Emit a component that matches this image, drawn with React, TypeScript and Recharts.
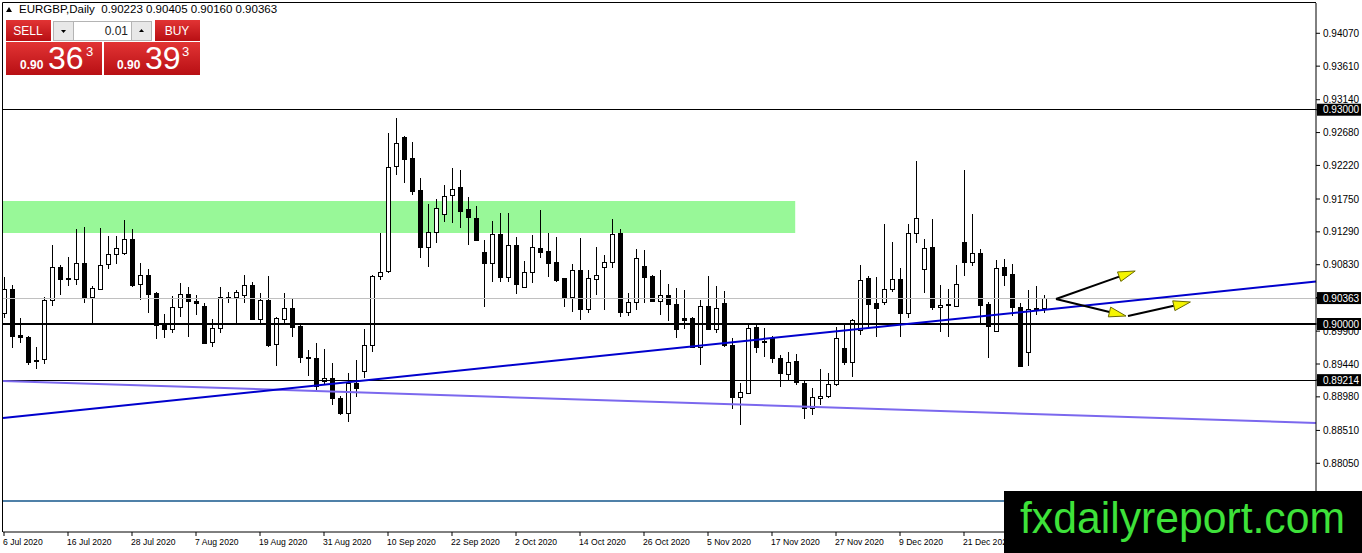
import React from "react";
import { Bar, ComposedChart, ReferenceArea, ReferenceLine, XAxis, YAxis } from "recharts";

const symbolName = "EURGBP,Daily";
const lastQuote = [0.90223, 0.90405, 0.9016, 0.90363];

const dateTicks = [0, 8, 16, 24, 32, 40, 48, 56, 64, 72, 80, 88, 96, 104, 112, 120];
const dateLabels = [
  "6 Jul 2020", "16 Jul 2020", "28 Jul 2020", "7 Aug 2020", "19 Aug 2020", "31 Aug 2020",
  "10 Sep 2020", "22 Sep 2020", "2 Oct 2020", "14 Oct 2020", "26 Oct 2020", "5 Nov 2020",
  "17 Nov 2020", "27 Nov 2020", "9 Dec 2020", "21 Dec 2020",
];

// open, high, low, close
const candles: number[][] = [
  [0.90154, 0.90658, 0.90084, 0.9049], [0.9049, 0.90546, 0.89664, 0.89832],
  [0.89846, 0.90084, 0.89734, 0.89818], [0.89818, 0.8983, 0.89426, 0.89468],
  [0.89482, 0.89678, 0.8937, 0.89496], [0.8951, 0.90378, 0.8944, 0.90336],
  [0.90336, 0.91106, 0.90252, 0.90798], [0.90798, 0.90826, 0.90406, 0.9063],
  [0.90644, 0.90938, 0.90532, 0.90636], [0.9063, 0.9133, 0.90546, 0.90854],
  [0.90854, 0.91358, 0.90294, 0.90364], [0.90378, 0.90532, 0.90014, 0.90504],
  [0.9049, 0.91344, 0.90476, 0.90826], [0.9084, 0.91232, 0.9077, 0.9098],
  [0.9098, 0.91232, 0.9084, 0.91064], [0.90994, 0.91456, 0.90966, 0.9119],
  [0.9119, 0.9133, 0.90518, 0.90546], [0.9056, 0.90854, 0.90336, 0.90686],
  [0.90686, 0.9077, 0.90154, 0.9042], [0.90434, 0.90448, 0.8979, 0.89986],
  [0.89986, 0.9014, 0.89804, 0.8993], [0.8993, 0.90392, 0.89874, 0.90238],
  [0.90238, 0.90574, 0.90098, 0.9042], [0.9042, 0.90518, 0.89818, 0.90322],
  [0.90322, 0.90406, 0.90126, 0.90294], [0.90252, 0.90294, 0.8972, 0.89734],
  [0.89748, 0.9007, 0.89678, 0.89944], [0.89944, 0.90518, 0.89874, 0.90378],
  [0.90364, 0.90448, 0.90294, 0.90372], [0.90378, 0.90476, 0.90014, 0.90448],
  [0.90406, 0.90686, 0.90294, 0.90546], [0.90546, 0.90588, 0.90056, 0.9007],
  [0.9007, 0.90434, 0.90014, 0.90336], [0.90336, 0.90672, 0.89678, 0.89706],
  [0.8972, 0.90098, 0.89412, 0.90084], [0.9007, 0.90434, 0.90014, 0.90224],
  [0.90224, 0.9035, 0.89818, 0.89958], [0.89972, 0.90014, 0.89454, 0.89538],
  [0.89538, 0.89636, 0.89272, 0.89524], [0.89524, 0.89734, 0.89076, 0.89132],
  [0.89202, 0.8965, 0.89146, 0.89244], [0.89244, 0.89454, 0.88866, 0.88964],
  [0.88964, 0.88992, 0.88726, 0.88754], [0.88754, 0.89314, 0.88628, 0.89174],
  [0.89174, 0.89496, 0.88978, 0.89104], [0.89342, 0.8993, 0.89244, 0.89706],
  [0.89706, 0.90686, 0.89608, 0.90672], [0.90672, 0.91274, 0.90616, 0.90728],
  [0.90742, 0.92674, 0.90714, 0.92198], [0.92212, 0.92884, 0.92086, 0.92534],
  [0.92618, 0.92632, 0.91974, 0.9231], [0.92324, 0.92548, 0.91806, 0.91862],
  [0.91876, 0.92044, 0.90924, 0.91078], [0.91078, 0.9168, 0.90798, 0.91288],
  [0.91288, 0.9175, 0.91134, 0.91624], [0.9154, 0.91946, 0.91428, 0.91792],
  [0.91806, 0.92184, 0.91414, 0.9189], [0.91918, 0.92156, 0.91344, 0.91582],
  [0.9161, 0.91778, 0.91106, 0.91498], [0.91484, 0.91652, 0.91162, 0.91176],
  [0.91008, 0.91176, 0.90238, 0.90854], [0.90854, 0.91442, 0.90588, 0.9126],
  [0.9126, 0.91554, 0.90588, 0.90658], [0.90658, 0.91554, 0.90588, 0.91106],
  [0.91106, 0.91218, 0.9042, 0.9056], [0.90518, 0.90882, 0.90504, 0.90728],
  [0.90728, 0.91246, 0.90574, 0.91078], [0.91064, 0.91596, 0.90924, 0.91008],
  [0.91022, 0.91274, 0.90658, 0.90854], [0.90868, 0.91218, 0.90588, 0.90616],
  [0.90644, 0.9065, 0.90238, 0.90378], [0.90378, 0.9084, 0.90168, 0.90756],
  [0.90756, 0.91204, 0.90056, 0.9021], [0.9021, 0.90756, 0.90154, 0.90644],
  [0.9063, 0.91078, 0.90406, 0.90686], [0.90798, 0.90966, 0.90196, 0.90868],
  [0.90868, 0.9147, 0.90784, 0.9126], [0.91274, 0.9133, 0.90098, 0.90168],
  [0.90168, 0.90434, 0.90112, 0.90308], [0.90308, 0.9105, 0.90196, 0.90924],
  [0.90812, 0.91036, 0.90294, 0.90658], [0.90672, 0.90686, 0.90308, 0.90322],
  [0.90322, 0.90756, 0.90126, 0.90406], [0.90406, 0.9056, 0.90042, 0.9028],
  [0.9028, 0.90504, 0.89804, 0.8993], [0.90084, 0.90476, 0.8993, 0.90056],
  [0.90084, 0.90098, 0.89664, 0.89678], [0.89678, 0.90336, 0.89426, 0.90252],
  [0.90252, 0.90672, 0.89916, 0.8993], [0.8993, 0.90532, 0.89874, 0.90224],
  [0.90294, 0.90462, 0.89678, 0.89706], [0.89706, 0.89804, 0.8881, 0.88978],
  [0.88978, 0.89174, 0.88586, 0.89048], [0.89034, 0.90014, 0.8902, 0.89944],
  [0.89958, 0.90014, 0.89594, 0.89678], [0.89762, 0.89944, 0.89538, 0.89748],
  [0.89804, 0.89832, 0.89454, 0.89524], [0.89524, 0.89566, 0.89118, 0.89314],
  [0.893, 0.89608, 0.89216, 0.89468], [0.89482, 0.8958, 0.89146, 0.89188],
  [0.89174, 0.89216, 0.8867, 0.88824], [0.88824, 0.89104, 0.88726, 0.88978],
  [0.88964, 0.8937, 0.88866, 0.88992], [0.88992, 0.89314, 0.88964, 0.8916],
  [0.8916, 0.89958, 0.89132, 0.89804], [0.89664, 0.89986, 0.89426, 0.89468],
  [0.89468, 0.9007, 0.89258, 0.90056], [0.89916, 0.90826, 0.89846, 0.90616],
  [0.90644, 0.90672, 0.89958, 0.9028], [0.90294, 0.90658, 0.89818, 0.90224],
  [0.90308, 0.914, 0.90266, 0.9049], [0.9049, 0.91148, 0.90448, 0.9063],
  [0.9063, 0.90784, 0.89818, 0.90154], [0.90154, 0.914, 0.90084, 0.91274],
  [0.91274, 0.92282, 0.91134, 0.91484], [0.9077, 0.9119, 0.90434, 0.91064],
  [0.91078, 0.9147, 0.90196, 0.90238], [0.90238, 0.90546, 0.89888, 0.90266],
  [0.9028, 0.9049, 0.89818, 0.90266], [0.90252, 0.90826, 0.90238, 0.9056],
  [0.91148, 0.92156, 0.90672, 0.90868], [0.90868, 0.9154, 0.90812, 0.90994],
  [0.90994, 0.9105, 0.90014, 0.90266], [0.9028, 0.90308, 0.89524, 0.89972],
  [0.89902, 0.90896, 0.89888, 0.90784], [0.90798, 0.9091, 0.90532, 0.90686],
  [0.907, 0.9084, 0.90112, 0.90238], [0.90238, 0.90294, 0.89398, 0.89412],
  [0.89608, 0.90476, 0.89412, 0.9021], [0.9021, 0.90532, 0.90126, 0.90224],
  [0.90223, 0.90405, 0.9016, 0.90363],
];

const priceTicks = [0.9407, 0.9361, 0.9314, 0.9268, 0.9222, 0.9175, 0.9129, 0.9083, 0.9037, 0.899, 0.8944, 0.8898, 0.8851, 0.8805];
const markedLevels = [0.93, 0.90363, 0.9, 0.89214];

// drawn objects, in (bar index, price)
const supplyZone = { x1: -0.125, x2: 98.9, y1: 0.91274, y2: 0.91722 };
const risingTrend = [{ x: -0.125, y: 0.88684 }, { x: 164, y: 0.90595 }];
const fallingTrend = [{ x: -0.125, y: 0.89202 }, { x: 164, y: 0.88614 }];
const lowLevel = 0.87522;
const arrowUp = [{ x: 131.5, y: 0.9035 }, { x: 141.4, y: 0.90742 }];
const arrowDown = [{ x: 131.5, y: 0.9035 }, { x: 140.25, y: 0.90112 }];
const arrowNext = [{ x: 140.5, y: 0.90112 }, { x: 148.3, y: 0.90308 }];

const data = candles.map(([open, high, low, close], i) => ({ i, open, high, low, close, range: [low, high] }));

const FONT = "'Liberation Sans', Arial, sans-serif";
const headerText = `${symbolName}  ${lastQuote.map((q) => q.toFixed(5)).join(" ")}`;

const Candle = (props: any) => {
  const { x, y, width, height, payload } = props;
  const { open, high, low, close } = payload;
  const c = Math.round(x + width / 2);
  const span = high - low || 1e-9;
  const py = (p: number) => y + ((high - p) / span) * height;
  const top = py(Math.max(open, close));
  const bot = py(Math.min(open, close));
  const up = close >= open;
  return (
    <g shapeRendering="crispEdges">
      <line x1={c + 0.5} x2={c + 0.5} y1={y} y2={y + height} stroke="#000" />
      <rect x={c - 1.5} y={top} width={4} height={Math.max(bot - top, 1)} fill={up ? "#fff" : "#000"} stroke="#000" />
    </g>
  );
};

const PriceTick = (props: any) => {
  const { x, y, payload } = props;
  const v = payload.value;
  if (markedLevels.includes(v)) {
    return (
      <g>
        <rect x={x - 6} y={y - 6} width={44} height={12} fill="#000" />
        <text x={x} y={y + 3.5} fontSize={10} fill="#fff" fontFamily={FONT}>{v.toFixed(5)}</text>
      </g>
    );
  }
  return <text x={x} y={y + 3.5} fontSize={10} fill="#000" fontFamily={FONT}>{v.toFixed(5)}</text>;
};

const DateTick = (props: any) => {
  const { x, y, payload } = props;
  const idx = dateTicks.indexOf(payload.value);
  return (
    <text x={x - 1} y={y + 7} fontSize={8.6} fill="#000" fontFamily={FONT}>{dateLabels[idx]}</text>
  );
};

const arrowShape = (props: any) => {
  const { x1, y1, x2, y2 } = props;
  const a = Math.atan2(y2 - y1, x2 - x1);
  const len = 17;
  const half = 5;
  const bx = x2 - len * Math.cos(a);
  const by = y2 - len * Math.sin(a);
  const pts = [
    [x2, y2],
    [bx - half * Math.sin(a), by + half * Math.cos(a)],
    [bx + half * Math.sin(a), by - half * Math.cos(a)],
  ].map((p) => p.join(",")).join(" ");
  return (
    <g>
      <line x1={x1} y1={y1} x2={bx} y2={by} stroke="#000" strokeWidth={2} />
      <polygon points={pts} fill="#f5f500" stroke="#6a6a00" strokeWidth={1} />
    </g>
  );
};

const QuotePanel = () => (
  <g fontFamily={FONT}>
    <defs>
      <linearGradient id="red" x1="0" y1="0" x2="0" y2="1">
        <stop offset="0" stopColor="#e23434" />
        <stop offset="1" stopColor="#b80f14" />
      </linearGradient>
    </defs>
    <polygon points="6,12 12,12 9,7" fill="#000" />
    <text x={19} y={13} fontSize={11.5} fill="#000" xmlSpace="preserve">{headerText}</text>
    <rect x={5} y={19} width={196} height={58} fill="#fff" />
    <rect x={6} y={20} width={45} height={21} fill="url(#red)" />
    <text x={28} y={35} fontSize={12} fill="#fff" textAnchor="middle">SELL</text>
    <rect x={53.5} y={21.5} width={98} height={19} fill="#fff" stroke="#b4b4b4" />
    <rect x={53.5} y={21.5} width={20} height={19} fill="#e8e8e8" stroke="#b4b4b4" />
    <rect x={131.5} y={21.5} width={20} height={19} fill="#e8e8e8" stroke="#b4b4b4" />
    <polygon points="61,30 66,30 63.5,33" fill="#000" />
    <polygon points="139,32 144,32 141.5,29" fill="#000" />
    <text x={128} y={35} fontSize={12} fill="#222" textAnchor="end">0.01</text>
    <rect x={155} y={20} width={45} height={21} fill="url(#red)" />
    <text x={177} y={35} fontSize={12} fill="#fff" textAnchor="middle">BUY</text>
    <rect x={6} y={42} width={96} height={33} fill="url(#red)" />
    <text x={20} y={69} fontSize={12} fontWeight="bold" fill="#fff">0.90</text>
    <text x={48} y={69} fontSize={32} fill="#fff">36</text>
    <text x={86} y={56} fontSize={13} fill="#fff">3</text>
    <rect x={104} y={42} width={96} height={33} fill="url(#red)" />
    <text x={117} y={69} fontSize={12} fontWeight="bold" fill="#fff">0.90</text>
    <text x={145} y={69} fontSize={32} fill="#fff">39</text>
    <text x={182} y={56} fontSize={13} fill="#fff">3</text>
  </g>
);

export default function App() {
  return (
    <div style={{ position: "fixed", left: 0, top: 0, width: 1362, height: 553, background: "#fff", overflow: "hidden" }}>
      <ComposedChart width={1362} height={553} data={data} margin={{ top: 3, right: 0, left: 3, bottom: 0 }}>
        <XAxis
          dataKey="i"
          type="number"
          domain={[-0.125, 164]}
          allowDataOverflow
          ticks={dateTicks}
          interval={0}
          height={21}
          tickSize={4}
          tickMargin={2}
          axisLine={{ stroke: "#000" }}
          tickLine={{ stroke: "#000" }}
          tick={<DateTick />}
        />
        <YAxis
          orientation="right"
          type="number"
          domain={[0.87088, 0.94494]}
          allowDataOverflow
          ticks={[...priceTicks, ...markedLevels]}
          interval={0}
          width={46}
          tickSize={4}
          tickMargin={3}
          axisLine={{ stroke: "#000" }}
          tickLine={{ stroke: "#000" }}
          tick={<PriceTick />}
        />
        <ReferenceArea
          x1={supplyZone.x1}
          x2={supplyZone.x2}
          y1={supplyZone.y1}
          y2={supplyZone.y2}
          fill="#98f898"
          fillOpacity={1}
          stroke="none"
          ifOverflow="visible"
        />
        <ReferenceLine y={lastQuote[3]} stroke="#c0c0c0" shapeRendering="crispEdges" />
        <Bar dataKey="range" barSize={6} shape={<Candle />} isAnimationActive={false} />
        <ReferenceLine y={0.93} stroke="#000" shapeRendering="crispEdges" />
        <ReferenceLine y={0.9} stroke="#000" strokeWidth={2} shapeRendering="crispEdges" />
        <ReferenceLine y={0.89214} stroke="#000" shapeRendering="crispEdges" />
        <ReferenceLine y={lowLevel} stroke="#4f80a8" strokeWidth={2} shapeRendering="crispEdges" />
        <ReferenceLine segment={fallingTrend} stroke="#7b68ee" strokeWidth={2} ifOverflow="visible" />
        <ReferenceLine segment={risingTrend} stroke="#0000cd" strokeWidth={2} ifOverflow="visible" />
        <ReferenceLine segment={arrowUp} shape={arrowShape} ifOverflow="visible" />
        <ReferenceLine segment={arrowDown} shape={arrowShape} ifOverflow="visible" />
        <ReferenceLine segment={arrowNext} shape={arrowShape} ifOverflow="visible" />
      </ComposedChart>
      <svg width={1362} height={553} style={{ position: "absolute", left: 0, top: 0, pointerEvents: "none" }}>
        <line x1={2.5} y1={2.5} x2={1316} y2={2.5} stroke="#000" />
        <line x1={2.5} y1={2.5} x2={2.5} y2={532} stroke="#000" />
        <QuotePanel />
        <rect x={1004} y={491} width={358} height={62} fill="#000" />
        <text x={1020} y={533} fontSize={44} fill="#3ee23a" fontFamily={FONT} textLength={325} lengthAdjust="spacingAndGlyphs">
          fxdailyreport.com
        </text>
      </svg>
    </div>
  );
}
